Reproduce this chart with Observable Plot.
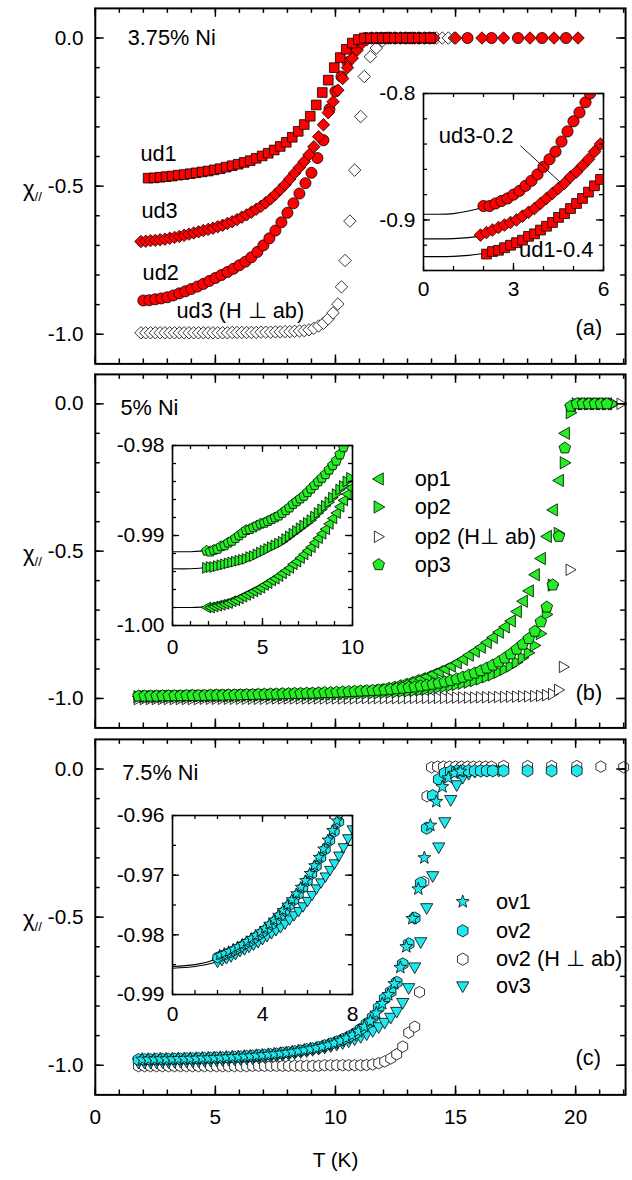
<!DOCTYPE html>
<html><head><meta charset="utf-8">
<script src="https://cdn.jsdelivr.net/npm/d3@7"></script>
<script src="https://cdn.jsdelivr.net/npm/@observablehq/plot@0.6"></script>
<style>
body{margin:0;background:#fff;}
#fig{position:relative;width:632px;height:1180px;overflow:hidden;background:#fff;font-family:"Liberation Sans",Arial,sans-serif;}
.ylab{position:absolute;font-size:22px;line-height:1;color:#000;}
.ylab sub{font-size:13px;vertical-align:-5px;}
</style></head><body><div id="fig"></div>
<script>
// ---------------- DATA ----------------
// Panel (a) 3.75% Ni : [T (K), chi]
const ud1 = [[2.2,-0.473],[2.45,-0.472],[2.7,-0.470],[2.95,-0.468],[3.2,-0.466],[3.45,-0.463],[3.7,-0.461],[3.95,-0.458],[4.2,-0.455],[4.45,-0.452],[4.7,-0.449],[4.95,-0.445],[5.2,-0.441],[5.45,-0.436],[5.7,-0.431],[5.95,-0.426],[6.2,-0.420],[6.45,-0.414],[6.7,-0.406],[6.95,-0.398],[7.2,-0.389],[7.45,-0.378],[7.7,-0.366],[7.95,-0.352],[8.2,-0.335],[8.45,-0.315],[8.7,-0.292],[8.95,-0.264],[9.2,-0.226],[9.45,-0.184],[9.7,-0.142],[9.95,-0.100],[10.2,-0.066],[10.45,-0.038],[10.7,-0.017],[10.95,-0.005],[11.2,0],[11.45,0],[11.7,0],[11.95,0],[12.2,0],[12.45,0],[12.7,0],[12.95,0],[13.2,0],[13.45,0],[13.7,0],[13.95,0]];
const ud2 = [[2.0,-0.886],[2.25,-0.885],[2.5,-0.882],[2.75,-0.879],[3.0,-0.875],[3.25,-0.869],[3.5,-0.862],[3.75,-0.855],[4.0,-0.847],[4.25,-0.839],[4.5,-0.830],[4.75,-0.820],[5.0,-0.810],[5.25,-0.800],[5.5,-0.790],[5.75,-0.779],[6.0,-0.767],[6.25,-0.755],[6.5,-0.740],[6.75,-0.722],[7.0,-0.700],[7.25,-0.676],[7.5,-0.650],[7.75,-0.622],[8.0,-0.590],[8.25,-0.558],[8.5,-0.525],[8.75,-0.490],[9.0,-0.455],[9.25,-0.405],[9.5,-0.345],[9.75,-0.240],[10.0,-0.180],[10.25,-0.130],[10.5,-0.082],[10.75,-0.040],[11.0,-0.014],[11.25,0],[11.5,0],[11.75,0],[12.0,0],[12.25,0],[12.5,0],[12.75,0],[13.0,0],[13.25,0],[13.5,0],[13.75,0],[14.0,0],[15.5,0],[16.5,0],[17.6,0],[18.6,0],[19.6,0]];
const ud3 = [[1.9,-0.687],[2.1,-0.686],[2.3,-0.684],[2.5,-0.683],[2.7,-0.681],[2.9,-0.679],[3.1,-0.676],[3.3,-0.673],[3.5,-0.670],[3.7,-0.666],[3.9,-0.662],[4.1,-0.658],[4.3,-0.654],[4.5,-0.650],[4.7,-0.646],[4.9,-0.642],[5.1,-0.637],[5.3,-0.632],[5.5,-0.626],[5.7,-0.620],[5.9,-0.613],[6.1,-0.605],[6.3,-0.597],[6.5,-0.588],[6.7,-0.578],[6.9,-0.568],[7.1,-0.556],[7.3,-0.543],[7.5,-0.528],[7.7,-0.512],[7.9,-0.495],[8.1,-0.476],[8.3,-0.456],[8.5,-0.437],[8.7,-0.417],[8.9,-0.394],[9.1,-0.367],[9.3,-0.333],[9.5,-0.293],[9.7,-0.252],[9.9,-0.215],[10.1,-0.176],[10.3,-0.137],[10.5,-0.100],[10.7,-0.068],[10.9,-0.041],[11.1,-0.018],[11.3,-0.006],[11.5,0],[11.7,0],[11.9,0],[12.1,0],[12.3,0],[12.5,0],[12.7,0],[12.9,0],[13.1,0],[13.3,0],[13.5,0],[13.7,0],[13.9,0],[14.1,0],[15.0,0],[16.1,0],[17.0,0],[18.1,0],[19.1,0],[20.1,0]];
const ud3perp = [[1.9,-0.995],[2.1,-0.995],[2.3,-0.995],[2.5,-0.995],[2.7,-0.995],[2.9,-0.995],[3.1,-0.995],[3.3,-0.995],[3.5,-0.995],[3.7,-0.995],[3.9,-0.995],[4.1,-0.995],[4.3,-0.995],[4.5,-0.995],[4.7,-0.995],[4.9,-0.995],[5.1,-0.995],[5.3,-0.995],[5.5,-0.995],[5.7,-0.994],[5.9,-0.994],[6.1,-0.994],[6.3,-0.994],[6.5,-0.994],[6.7,-0.994],[6.9,-0.993],[7.1,-0.993],[7.3,-0.993],[7.5,-0.992],[7.7,-0.992],[7.9,-0.991],[8.1,-0.991],[8.3,-0.990],[8.5,-0.989],[8.7,-0.988],[8.9,-0.985],[9.1,-0.980],[9.3,-0.972],[9.5,-0.963],[9.7,-0.948],[9.9,-0.928],[10.1,-0.898],[10.25,-0.840],[10.4,-0.751],[10.6,-0.618],[10.8,-0.446],[11.05,-0.265],[11.2,-0.130],[11.45,-0.063],[11.7,-0.034],[11.95,-0.010],[12.2,0],[12.45,0],[12.7,0],[12.95,0],[13.2,0],[13.45,0],[13.7,0],[13.95,0],[14.2,0],[14.45,0],[14.7,0],[14.95,0]];
// inset (a)
const ud2In = [[2.0,-0.889],[2.2,-0.889],[2.4,-0.887],[2.6,-0.885],[2.8,-0.883],[3.0,-0.880],[3.2,-0.877],[3.4,-0.873],[3.6,-0.869],[3.8,-0.864],[4.0,-0.858],[4.2,-0.852],[4.4,-0.846],[4.6,-0.838],[4.8,-0.830],[5.0,-0.822],[5.2,-0.815],[5.4,-0.807],[5.55,-0.800]];
const ud3In = [[1.9,-0.912],[2.1,-0.910],[2.3,-0.908],[2.5,-0.906],[2.7,-0.904],[2.9,-0.902],[3.1,-0.900],[3.3,-0.897],[3.5,-0.894],[3.7,-0.891],[3.9,-0.887],[4.1,-0.883],[4.3,-0.879],[4.5,-0.875],[4.7,-0.871],[4.9,-0.866],[5.1,-0.862],[5.3,-0.857],[5.5,-0.852],[5.7,-0.846],[5.9,-0.840]];
const ud1In = [[2.1,-0.927],[2.3,-0.925],[2.5,-0.924],[2.7,-0.922],[2.9,-0.920],[3.1,-0.918],[3.3,-0.916],[3.5,-0.913],[3.7,-0.911],[3.9,-0.908],[4.1,-0.905],[4.3,-0.902],[4.5,-0.898],[4.7,-0.895],[4.9,-0.891],[5.1,-0.887],[5.3,-0.883],[5.5,-0.878],[5.7,-0.873],[5.9,-0.868]];
const ud2Fit = [[0,-0.8955],[0.5,-0.8955],[1,-0.895],[1.5,-0.893],[2,-0.890],[2.5,-0.886],[3,-0.880],[3.5,-0.871],[4,-0.859],[4.5,-0.843],[5,-0.824],[5.5,-0.801],[6,-0.775]];
const ud3Fit = [[0,-0.915],[0.5,-0.915],[1,-0.9148],[1.5,-0.914],[2,-0.912],[2.5,-0.9075],[3,-0.901],[3.5,-0.894],[4,-0.885],[4.5,-0.875],[5,-0.864],[5.5,-0.852],[6,-0.837]];
const ud1Fit = [[0,-0.929],[0.5,-0.929],[1,-0.9288],[1.5,-0.928],[2,-0.9265],[2.5,-0.924],[3,-0.919],[3.5,-0.913],[4,-0.906],[4.5,-0.898],[5,-0.889],[5.5,-0.878],[6,-0.866]];

// Panel (b) 5% Ni
const op1 = [[1.80,-0.993],[2.05,-0.993],[2.30,-0.993],[2.55,-0.993],[2.80,-0.992],[3.05,-0.992],[3.30,-0.992],[3.55,-0.992],[3.80,-0.991],[4.05,-0.991],[4.30,-0.991],[4.55,-0.991],[4.80,-0.990],[5.05,-0.990],[5.30,-0.990],[5.55,-0.990],[5.80,-0.989],[6.05,-0.989],[6.30,-0.989],[6.55,-0.988],[6.80,-0.988],[7.05,-0.988],[7.30,-0.987],[7.55,-0.987],[7.80,-0.987],[8.05,-0.986],[8.30,-0.986],[8.55,-0.986],[8.80,-0.985],[9.05,-0.985],[9.30,-0.985],[9.55,-0.985],[9.80,-0.984],[10.05,-0.983],[10.30,-0.982],[10.55,-0.980],[10.80,-0.979],[11.05,-0.977],[11.30,-0.976],[11.55,-0.973],[11.80,-0.970],[12.05,-0.966],[12.30,-0.962],[12.55,-0.957],[12.80,-0.952],[13.05,-0.946],[13.30,-0.939],[13.55,-0.933],[13.80,-0.926],[14.05,-0.917],[14.30,-0.909],[14.55,-0.900],[14.80,-0.890],[15.05,-0.879],[15.30,-0.867],[15.55,-0.853],[15.80,-0.840],[16.05,-0.826],[16.30,-0.810],[16.55,-0.793],[16.80,-0.775],[17.05,-0.757],[17.30,-0.737],[17.55,-0.705],[17.80,-0.670],[18.05,-0.635],[18.30,-0.580],[18.55,-0.525],[18.80,-0.450],[19.05,-0.360],[19.30,-0.260],[19.55,-0.100],[19.80,-0.005],[20.05,0],[20.30,0],[20.55,0],[20.80,0],[21.05,0],[21.30,0]];
const op2 = [[1.80,-0.994],[2.05,-0.994],[2.30,-0.994],[2.55,-0.994],[2.80,-0.993],[3.05,-0.993],[3.30,-0.993],[3.55,-0.993],[3.80,-0.993],[4.05,-0.992],[4.30,-0.992],[4.55,-0.992],[4.80,-0.992],[5.05,-0.992],[5.30,-0.991],[5.55,-0.991],[5.80,-0.991],[6.05,-0.991],[6.30,-0.990],[6.55,-0.990],[6.80,-0.990],[7.05,-0.990],[7.30,-0.989],[7.55,-0.989],[7.80,-0.989],[8.05,-0.988],[8.30,-0.988],[8.55,-0.988],[8.80,-0.987],[9.05,-0.987],[9.30,-0.987],[9.55,-0.986],[9.80,-0.986],[10.05,-0.985],[10.30,-0.985],[10.55,-0.984],[10.80,-0.984],[11.05,-0.983],[11.30,-0.982],[11.55,-0.982],[11.80,-0.981],[12.05,-0.980],[12.30,-0.979],[12.55,-0.978],[12.80,-0.976],[13.05,-0.975],[13.30,-0.973],[13.55,-0.971],[13.80,-0.968],[14.05,-0.966],[14.30,-0.963],[14.55,-0.960],[14.80,-0.957],[15.05,-0.953],[15.30,-0.949],[15.55,-0.945],[15.80,-0.940],[16.05,-0.934],[16.30,-0.927],[16.55,-0.920],[16.80,-0.911],[17.05,-0.901],[17.30,-0.890],[17.55,-0.877],[17.80,-0.862],[18.05,-0.845],[18.30,-0.820],[18.55,-0.780],[18.80,-0.715],[19.05,-0.615],[19.30,-0.440],[19.55,-0.200],[19.80,-0.030],[20.05,0],[20.30,0],[20.55,0],[20.80,0],[21.05,0],[21.30,0],[21.55,0]];
const op2perp = [[1.80,-1.002],[2.05,-1.002],[2.30,-1.002],[2.55,-1.002],[2.80,-1.002],[3.05,-1.002],[3.30,-1.002],[3.55,-1.002],[3.80,-1.002],[4.05,-1.002],[4.30,-1.002],[4.55,-1.001],[4.80,-1.001],[5.05,-1.001],[5.30,-1.001],[5.55,-1.001],[5.80,-1.001],[6.05,-1.001],[6.30,-1.001],[6.55,-1.001],[6.80,-1.001],[7.05,-1.001],[7.30,-1.001],[7.55,-1.000],[7.80,-1.000],[8.05,-1.000],[8.30,-1.000],[8.55,-1.000],[8.80,-1.000],[9.05,-1.000],[9.30,-1.000],[9.55,-1.000],[9.80,-1.000],[10.05,-1.000],[10.30,-1.000],[10.55,-1.000],[10.80,-1.000],[11.05,-0.999],[11.30,-0.999],[11.55,-0.999],[11.80,-0.999],[12.05,-0.999],[12.30,-0.999],[12.55,-0.999],[12.80,-0.999],[13.05,-0.999],[13.30,-0.998],[13.55,-0.998],[13.80,-0.998],[14.05,-0.998],[14.30,-0.998],[14.55,-0.998],[14.80,-0.998],[15.05,-0.997],[15.30,-0.997],[15.55,-0.997],[15.80,-0.997],[16.05,-0.996],[16.30,-0.996],[16.55,-0.996],[16.80,-0.995],[17.05,-0.995],[17.30,-0.994],[17.55,-0.994],[17.80,-0.993],[18.05,-0.993],[18.30,-0.992],[18.55,-0.991],[18.80,-0.989],[19.05,-0.985],[19.30,-0.971],[19.50,-0.893],[19.78,-0.563],[20.30,0],[20.80,0],[21.30,0],[21.60,0],[21.90,0]];
const op3 = [[1.80,-0.992],[2.05,-0.992],[2.30,-0.992],[2.55,-0.992],[2.80,-0.991],[3.05,-0.991],[3.30,-0.991],[3.55,-0.991],[3.80,-0.990],[4.05,-0.990],[4.30,-0.990],[4.55,-0.990],[4.80,-0.989],[5.05,-0.989],[5.30,-0.989],[5.55,-0.988],[5.80,-0.988],[6.05,-0.988],[6.30,-0.987],[6.55,-0.987],[6.80,-0.986],[7.05,-0.986],[7.30,-0.985],[7.55,-0.985],[7.80,-0.984],[8.05,-0.984],[8.30,-0.983],[8.55,-0.983],[8.80,-0.982],[9.05,-0.982],[9.30,-0.981],[9.55,-0.980],[9.80,-0.980],[10.05,-0.979],[10.30,-0.978],[10.55,-0.977],[10.80,-0.976],[11.05,-0.975],[11.30,-0.974],[11.55,-0.973],[11.80,-0.972],[12.05,-0.971],[12.30,-0.969],[12.55,-0.967],[12.80,-0.965],[13.05,-0.963],[13.30,-0.961],[13.55,-0.958],[13.80,-0.955],[14.05,-0.952],[14.30,-0.948],[14.55,-0.944],[14.80,-0.939],[15.05,-0.934],[15.30,-0.928],[15.55,-0.921],[15.80,-0.914],[16.05,-0.906],[16.30,-0.897],[16.55,-0.887],[16.80,-0.876],[17.05,-0.863],[17.30,-0.849],[17.55,-0.833],[17.80,-0.816],[18.05,-0.797],[18.30,-0.772],[18.55,-0.740],[18.80,-0.690],[19.05,-0.615],[19.30,-0.450],[19.55,-0.150],[19.80,-0.008],[20.05,0],[20.30,0],[20.55,0],[20.80,0],[21.05,0],[21.30,0]];
// inset (b)
const op3In = [[1.9,-0.9917],[2.1,-0.9918],[2.3,-0.9916],[2.5,-0.9915],[2.7,-0.9912],[2.9,-0.9911],[3.1,-0.9908],[3.3,-0.9906],[3.5,-0.9903],[3.7,-0.9900],[3.9,-0.9897],[4.1,-0.9894],[4.3,-0.9893],[4.5,-0.9891],[4.7,-0.9889],[4.9,-0.9887],[5.1,-0.9886],[5.3,-0.9884],[5.5,-0.9882],[5.7,-0.9880],[5.9,-0.9878],[6.1,-0.9875],[6.3,-0.9872],[6.5,-0.9869],[6.7,-0.9865],[6.9,-0.9862],[7.1,-0.9859],[7.3,-0.9856],[7.5,-0.9852],[7.7,-0.9848],[7.9,-0.9844],[8.1,-0.9840],[8.3,-0.9836],[8.5,-0.9832],[8.7,-0.9827],[8.9,-0.9822],[9.1,-0.9817],[9.3,-0.9810],[9.5,-0.9802]];
const op2In = [[1.9,-0.9936],[2.1,-0.9935],[2.3,-0.9935],[2.5,-0.9934],[2.7,-0.9933],[2.9,-0.9932],[3.1,-0.9931],[3.3,-0.9930],[3.5,-0.9929],[3.7,-0.9928],[3.9,-0.9927],[4.1,-0.9926],[4.3,-0.9924],[4.5,-0.9923],[4.7,-0.9921],[4.9,-0.9919],[5.1,-0.9917],[5.3,-0.9915],[5.5,-0.9913],[5.7,-0.9911],[5.9,-0.9909],[6.1,-0.9907],[6.3,-0.9904],[6.5,-0.9901],[6.7,-0.9898],[6.9,-0.9895],[7.1,-0.9892],[7.3,-0.9889],[7.5,-0.9886],[7.7,-0.9883],[7.9,-0.9879],[8.1,-0.9875],[8.3,-0.9871],[8.5,-0.9867],[8.7,-0.9863],[8.9,-0.9858],[9.1,-0.9854],[9.3,-0.9849],[9.5,-0.9845],[9.7,-0.9840],[9.9,-0.9836]];
const op1In = [[1.9,-0.9980],[2.1,-0.9980],[2.3,-0.9979],[2.5,-0.9978],[2.7,-0.9977],[2.9,-0.9976],[3.1,-0.9975],[3.3,-0.9973],[3.5,-0.9972],[3.7,-0.9970],[3.9,-0.9968],[4.1,-0.9966],[4.3,-0.9964],[4.5,-0.9962],[4.7,-0.9960],[4.9,-0.9958],[5.1,-0.9955],[5.3,-0.9953],[5.5,-0.9950],[5.7,-0.9948],[5.9,-0.9945],[6.1,-0.9942],[6.3,-0.9939],[6.5,-0.9936],[6.7,-0.9932],[6.9,-0.9929],[7.1,-0.9925],[7.3,-0.9921],[7.5,-0.9917],[7.7,-0.9913],[7.9,-0.9908],[8.1,-0.9903],[8.3,-0.9898],[8.5,-0.9893],[8.7,-0.9887],[8.9,-0.9881],[9.1,-0.9875],[9.3,-0.9868],[9.5,-0.9861],[9.7,-0.9854],[9.9,-0.9847]];
const op3Fit = [[0,-0.9918],[1,-0.9918],[2,-0.9916],[3,-0.9910],[4,-0.9898],[5,-0.9885],[6,-0.9874],[7,-0.9860],[8,-0.9842],[9,-0.9820],[10,-0.9790]];
const op2Fit = [[0,-0.9937],[1,-0.9937],[2,-0.9935],[3,-0.9931],[4,-0.9926],[5,-0.9918],[6,-0.9908],[7,-0.9894],[8,-0.9877],[9,-0.9857],[10,-0.9834]];
const op1Fit = [[0,-0.9980],[1,-0.9980],[2,-0.9979],[3,-0.9975],[4,-0.9967],[5,-0.9957],[6,-0.9944],[7,-0.9927],[8,-0.9906],[9,-0.9880],[10,-0.9846]];

// Panel (c) 7.5% Ni
const ov1 = [[1.95,-0.980],[2.2,-0.980],[2.45,-0.980],[2.7,-0.979],[2.95,-0.979],[3.2,-0.979],[3.45,-0.978],[3.7,-0.978],[3.95,-0.977],[4.2,-0.977],[4.45,-0.976],[4.7,-0.976],[4.95,-0.975],[5.2,-0.974],[5.45,-0.973],[5.7,-0.972],[5.95,-0.971],[6.2,-0.970],[6.45,-0.969],[6.7,-0.967],[6.95,-0.966],[7.2,-0.964],[7.45,-0.962],[7.7,-0.960],[7.95,-0.958],[8.2,-0.955],[8.45,-0.952],[8.7,-0.949],[8.95,-0.945],[9.2,-0.942],[9.45,-0.937],[9.7,-0.932],[9.95,-0.926],[10.2,-0.918],[10.45,-0.909],[10.7,-0.899],[10.95,-0.886],[11.2,-0.870],[11.45,-0.851],[11.7,-0.824],[11.95,-0.792],[12.2,-0.762],[12.45,-0.725],[12.7,-0.670],[12.95,-0.600],[13.2,-0.505],[13.45,-0.405],[13.7,-0.300],[13.95,-0.190],[14.2,-0.110],[14.45,-0.060],[14.7,-0.030],[14.95,-0.015],[15.2,-0.008]];
const ov2 = [[1.80,-0.981],[2.05,-0.981],[2.30,-0.981],[2.55,-0.980],[2.80,-0.980],[3.05,-0.980],[3.30,-0.979],[3.55,-0.979],[3.80,-0.978],[4.05,-0.978],[4.30,-0.977],[4.55,-0.977],[4.80,-0.976],[5.05,-0.975],[5.30,-0.975],[5.55,-0.974],[5.80,-0.973],[6.05,-0.972],[6.30,-0.970],[6.55,-0.969],[6.80,-0.967],[7.05,-0.966],[7.30,-0.964],[7.55,-0.962],[7.80,-0.959],[8.05,-0.957],[8.30,-0.954],[8.55,-0.951],[8.80,-0.947],[9.05,-0.944],[9.30,-0.940],[9.55,-0.934],[9.80,-0.928],[10.05,-0.921],[10.30,-0.913],[10.55,-0.904],[10.80,-0.893],[11.05,-0.878],[11.30,-0.860],[11.55,-0.838],[11.80,-0.806],[12.05,-0.775],[12.30,-0.752],[12.55,-0.720],[12.80,-0.658],[13.05,-0.590],[13.30,-0.503],[13.55,-0.385],[13.80,-0.200],[14.05,-0.090],[14.30,-0.035],[14.55,-0.014],[14.80,-0.008],[15.05,-0.006],[15.30,-0.006],[15.55,-0.006],[15.80,-0.006],[16.05,-0.006],[16.30,-0.006],[16.55,-0.006],[17.0,-0.006],[18.0,-0.006],[19.0,-0.006],[20.05,-0.006]];
const ov2perp = [[1.80,-1.003],[2.05,-1.003],[2.30,-1.003],[2.55,-1.003],[2.80,-1.003],[3.05,-1.003],[3.30,-1.003],[3.55,-1.003],[3.80,-1.003],[4.05,-1.003],[4.30,-1.003],[4.55,-1.003],[4.80,-1.003],[5.05,-1.003],[5.30,-1.003],[5.55,-1.003],[5.80,-1.003],[6.05,-1.003],[6.30,-1.003],[6.55,-1.002],[6.80,-1.002],[7.05,-1.002],[7.30,-1.002],[7.55,-1.002],[7.80,-1.002],[8.05,-1.002],[8.30,-1.002],[8.55,-1.002],[8.80,-1.002],[9.05,-1.002],[9.30,-1.002],[9.55,-1.000],[9.80,-1.000],[10.05,-1.000],[10.30,-1.000],[10.55,-1.000],[10.80,-1.000],[11.05,-1.000],[11.30,-0.999],[11.55,-0.997],[11.80,-0.993],[12.05,-0.987],[12.30,-0.977],[12.55,-0.963],[12.80,-0.937],[13.05,-0.890],[13.30,-0.870],[13.50,-0.753],[13.68,-0.381],[13.81,-0.092],[14.00,0.006],[14.25,0.008],[14.50,0.008],[14.75,0.008],[15.00,0.008],[15.25,0.008],[15.50,0.008],[15.75,0.008],[16.00,0.008],[16.25,0.008],[16.50,0.008],[17.0,0.010],[18.0,0.010],[19.0,0.010],[20.05,0.010],[21.05,0.008],[22.0,0.006]];
const ov3 = [[1.80,-0.992],[2.05,-0.992],[2.30,-0.991],[2.55,-0.991],[2.80,-0.990],[3.05,-0.990],[3.30,-0.989],[3.55,-0.989],[3.80,-0.988],[4.05,-0.987],[4.30,-0.987],[4.55,-0.986],[4.80,-0.985],[5.05,-0.984],[5.30,-0.983],[5.55,-0.982],[5.80,-0.981],[6.05,-0.980],[6.30,-0.978],[6.55,-0.977],[6.80,-0.975],[7.05,-0.973],[7.30,-0.971],[7.55,-0.969],[7.80,-0.966],[8.05,-0.963],[8.30,-0.960],[8.55,-0.956],[8.80,-0.953],[9.05,-0.949],[9.30,-0.945],[9.55,-0.941],[9.80,-0.936],[10.05,-0.931],[10.30,-0.926],[10.55,-0.920],[10.80,-0.913],[11.05,-0.905],[11.30,-0.896],[11.55,-0.885],[11.80,-0.872],[12.05,-0.857],[12.30,-0.840],[12.55,-0.820],[12.80,-0.790],[13.05,-0.740],[13.30,-0.670],[13.55,-0.585],[13.80,-0.470],[14.05,-0.362],[14.30,-0.265],[14.55,-0.180],[14.80,-0.105],[15.05,-0.055],[15.30,-0.030],[15.55,-0.017],[15.80,-0.010],[16.05,-0.007],[16.30,-0.006],[16.55,-0.006],[16.80,-0.006]];
// inset (c)
const ov1In = [[2.1,-0.9834],[2.3,-0.9831],[2.5,-0.9828],[2.7,-0.9824],[2.9,-0.9820],[3.1,-0.9816],[3.3,-0.9811],[3.5,-0.9806],[3.7,-0.9801],[3.9,-0.9795],[4.1,-0.9789],[4.3,-0.9782],[4.5,-0.9775],[4.7,-0.9767],[4.9,-0.9759],[5.1,-0.9750],[5.3,-0.9741],[5.5,-0.9731],[5.7,-0.9720],[5.9,-0.9709],[6.1,-0.9697],[6.3,-0.9684],[6.5,-0.9670],[6.7,-0.9656],[6.9,-0.9641],[7.1,-0.9625],[7.3,-0.9609]];
const ov2In = [[2.0,-0.9838],[2.2,-0.9835],[2.4,-0.9832],[2.6,-0.9829],[2.8,-0.9825],[3.0,-0.9821],[3.2,-0.9816],[3.4,-0.9812],[3.6,-0.9807],[3.8,-0.9801],[4.0,-0.9796],[4.2,-0.9790],[4.4,-0.9783],[4.6,-0.9776],[4.8,-0.9768],[5.0,-0.9760],[5.2,-0.9751],[5.4,-0.9742],[5.6,-0.9732],[5.8,-0.9721],[6.0,-0.9710],[6.2,-0.9698],[6.4,-0.9685],[6.6,-0.9671],[6.8,-0.9657],[7.0,-0.9642],[7.2,-0.9627],[7.4,-0.9611]];
const ov3In = [[2.0,-0.9846],[2.2,-0.9843],[2.4,-0.9840],[2.6,-0.9837],[2.8,-0.9833],[3.0,-0.9828],[3.2,-0.9825],[3.4,-0.9821],[3.6,-0.9817],[3.8,-0.9813],[4.0,-0.9808],[4.2,-0.9803],[4.4,-0.9798],[4.6,-0.9793],[4.8,-0.9788],[5.0,-0.9782],[5.2,-0.9775],[5.4,-0.9768],[5.6,-0.9761],[5.8,-0.9753],[6.0,-0.9744],[6.2,-0.9734],[6.4,-0.9723],[6.6,-0.9713],[6.8,-0.9703],[7.0,-0.9692],[7.2,-0.9681],[7.4,-0.9668],[7.6,-0.9654],[7.8,-0.9639],[8.0,-0.9624]];
const ovFitUpper = [[0,-0.9853],[1,-0.9850],[2,-0.9840],[3,-0.9822],[4,-0.9797],[5,-0.9760],[6,-0.9709],[7,-0.9643],[7.5,-0.9605],[8,-0.9565]];
const ovFitLower = [[0,-0.9856],[1,-0.9853],[2,-0.9845],[3,-0.9830],[4,-0.9808],[5,-0.9780],[6,-0.9743],[7,-0.9693],[8,-0.9628]];

// ticks and labels
const xMinor = [0,1,2,3,4,5,6,7,8,9,10,11,12,13,14,15,16,17,18,19,20,21,22];
const xMajor = [0,5,10,15,20];
const yMinor = [-1.0,-0.9,-0.8,-0.7,-0.6,-0.5,-0.4,-0.3,-0.2,-0.1,0.0];
const yMajor = [-1.0,-0.5,0.0];
const legendB = [["op1","triL",-0.255],["op2","triR",-0.350],["op2 (H\u22a5 ab)","triRopen",-0.451],["op3","pent",-0.546]];
const legendC = [["ov1","star",-0.448],["ov2","hex",-0.546],["ov2 (H \u22a5 ab)","hexopen",-0.642],["ov3","triD",-0.734]];

// ---------------- SYMBOLS ----------------
const R = s => Math.sqrt(s / Math.PI);
function poly(c, pts){ c.moveTo(pts[0][0], pts[0][1]); for (let i=1;i<pts.length;i++) c.lineTo(pts[i][0], pts[i][1]); c.closePath(); }
const SYM = {
  square: {draw(c,s){const r=R(s); poly(c,[[-r,-r],[r,-r],[r,r],[-r,r]]);}},
  diamond:{draw(c,s){const r=R(s); poly(c,[[0,-r],[r,0],[0,r],[-r,0]]);}},
  circle: {draw(c,s){const r=R(s); c.moveTo(r,0); c.arc(0,0,r,0,2*Math.PI);}},
  triL:   {draw(c,s){const r=R(s); poly(c,[[-r,0],[r*0.75,-r],[r*0.75,r]]);}},
  triR:   {draw(c,s){const r=R(s); poly(c,[[r,0],[-r*0.75,-r],[-r*0.75,r]]);}},
  triD:   {draw(c,s){const r=R(s); poly(c,[[0,r],[r,-r*0.75],[-r,-r*0.75]]);}},
  pent:   {draw(c,s){const r=R(s); poly(c,d3.range(5).map(k=>{const a=-Math.PI/2+k*2*Math.PI/5; return [r*Math.cos(a), r*Math.sin(a)];}));}},
  hex:    {draw(c,s){const r=R(s); poly(c,d3.range(6).map(k=>{const a=-Math.PI/2+k*Math.PI/3; return [r*Math.cos(a), r*Math.sin(a)];}));}},
  star:   {draw(c,s){const r=R(s); poly(c,d3.range(10).map(k=>{const a=-Math.PI/2+k*Math.PI/5, q=k%2?r*0.42:r; return [q*Math.cos(a), q*Math.sin(a)];}));}}
};
const RED = "#ff0000", GREEN = "#22ee22", CYAN = "#1ee8ee";
const FONT = "Liberation Sans, Arial, sans-serif";
const FS_TICK = 21, FS_TXT = 22;

function dots(data, sym, r, fill, extra = {}) {
  return Plot.dot(data, {x: d => d[0], y: d => d[1], symbol: SYM[sym], r, fill, stroke: "black", strokeWidth: 0.8, ...extra});
}
function fit(data) { return Plot.line(data, {x: d => d[0], y: d => d[1], stroke: "black", strokeWidth: 1.1, curve: "natural", clip: true}); }
function txt(t, v, s, opts = {}) {
  return Plot.text([s], {x: () => t, y: () => v, text: d => d, fontFamily: FONT, fontSize: FS_TXT, fill: "black", textAnchor: "start", ...opts});
}
function frameTicks(pw, ph, xmin, xmaj, ymin, ymaj, lmin, lmaj, sw) {
  const o = {stroke: "black", strokeWidth: sw};
  return [
    Plot.tickX(xmin, {x: d => d, insetTop: ph - lmin, ...o}),
    Plot.tickX(xmin, {x: d => d, insetBottom: ph - lmin, ...o}),
    Plot.tickX(xmaj, {x: d => d, insetTop: ph - lmaj, ...o}),
    Plot.tickX(xmaj, {x: d => d, insetBottom: ph - lmaj, ...o}),
    Plot.tickY(ymin, {y: d => d, insetRight: pw - lmin, ...o}),
    Plot.tickY(ymin, {y: d => d, insetLeft: pw - lmin, ...o}),
    Plot.tickY(ymaj, {y: d => d, insetRight: pw - lmaj, ...o}),
    Plot.tickY(ymaj, {y: d => d, insetLeft: pw - lmaj, ...o})
  ];
}

const fig = document.getElementById("fig");
function place(svg, left, top) {
  svg.style.position = "absolute"; svg.style.left = left + "px"; svg.style.top = top + "px";
  svg.style.background = "transparent"; svg.style.overflow = "visible";
  fig.appendChild(svg);
}

// ---------------- MAIN PANELS ----------------
const W = 640, ML = 96, MR = 7, PW = W - ML - MR;
function mainPanel(top, ph, mb, marks, withXLabels) {
  const extra = [];
  if (withXLabels) {
    extra.push(Plot.text(xMajor, {x: d => d, frameAnchor: "bottom", lineAnchor: "middle", dy: 23, text: d => String(d), fontFamily: FONT, fontSize: FS_TICK, fill: "black"}));
    extra.push(Plot.text(["T (K)"], {x: () => 10, frameAnchor: "bottom", lineAnchor: "middle", dy: 66, text: d => d, fontFamily: FONT, fontSize: FS_TICK, fill: "black"}));
  }
  const svg = Plot.plot({
    width: W, height: 8 + ph + mb, marginLeft: ML, marginRight: MR, marginTop: 8, marginBottom: mb,
    x: {domain: [0, 22.08], axis: null}, y: {domain: [-1.1, 0.1], axis: null},
    marks: [
      ...marks,
      Plot.frame({stroke: "black", strokeWidth: 2}),
      ...frameTicks(PW, ph, xMinor, xMajor, yMinor, yMajor, 5, 9, 1.5),
      Plot.text(yMajor, {y: d => d, frameAnchor: "left", lineAnchor: "middle", dx: -12, textAnchor: "end", text: d => d.toFixed(1), fontFamily: FONT, fontSize: FS_TICK, fill: "black"}),
      ...extra
    ]
  });
  place(svg, 0, top - 8);
}

// Panel (a)
mainPanel(8, 360, 4, [
  dots(ud3perp, "diamond", 6.3, "white"),
  dots(ud2, "circle", 5.6, RED),
  dots(ud3, "diamond", 6.3, RED),
  dots(ud1, "square", 4.9, RED),
  txt(1.35, 0.0, "3.75% Ni"),
  txt(1.88, -0.392, "ud1"),
  txt(1.92, -0.585, "ud3"),
  txt(1.97, -0.793, "ud2"),
  txt(3.38, -0.923, "ud3 (H \u22a5 ab)"),
  txt(20.0, -0.98, "(a)")
], false);

// Panel (b)
mainPanel(374, 358, 4, [
  dots(op2perp, "triR", 5.8, "white"),
  dots(op1, "triL", 6.2, GREEN),
  dots(op2, "triR", 6.2, GREEN),
  dots(op3, "pent", 6.2, GREEN),
  txt(1.05, -0.014, "5% Ni"),
  txt(20.0, -0.98, "(b)"),
  ...legendB.map(([lab, sym, v]) => dots([[11.8, v]], sym === "triRopen" ? "triR" : sym, sym === "triRopen" ? 5.8 : 6.2, sym === "triRopen" ? "white" : GREEN)),
  ...legendB.map(([lab, sym, v]) => txt(13.3, v, lab))
], false);

// Panel (c)
mainPanel(739, 360, 81, [
  dots(ov2perp, "hex", 5.8, "white"),
  dots(ov3, "triD", 6.2, CYAN),
  dots(ov2, "hex", 6.2, CYAN),
  dots(ov1, "star", 6.8, CYAN),
  txt(1.12, -0.014, "7.5% Ni"),
  txt(20.0, -0.975, "(c)"),
  ...legendC.map(([lab, sym, v]) => dots([[15.3, v]], sym === "hexopen" ? "hex" : sym, sym === "star" ? 6.8 : 6.2, sym === "hexopen" ? "white" : CYAN)),
  ...legendC.map(([lab, sym, v]) => txt(16.68, v, lab))
], true);

// ---------------- INSETS ----------------
function inset(left, top, pw, ph, xd, yd, xmin, xmaj, ymin, ymaj, xlab, ylab, fmt, labDy, marks) {
  const iml = 75, imt = 10, imr = 10, imb = 40;
  const svg = Plot.plot({
    width: iml + pw + imr, height: imt + ph + imb, marginLeft: iml, marginTop: imt, marginRight: imr, marginBottom: imb,
    x: {domain: xd, axis: null}, y: {domain: yd, axis: null},
    marks: [
      ...marks,
      Plot.frame({stroke: "black", strokeWidth: 1.6}),
      ...frameTicks(pw, ph, xmin, xmaj, ymin, ymaj, 4, 7, 1.3),
      Plot.text(ylab, {y: d => d, frameAnchor: "left", lineAnchor: "middle", dx: -8, textAnchor: "end", text: fmt, fontFamily: FONT, fontSize: FS_TICK, fill: "black"}),
      Plot.text(xlab, {x: d => d, frameAnchor: "bottom", lineAnchor: "middle", dy: labDy, text: d => String(d), fontFamily: FONT, fontSize: FS_TICK, fill: "black"})
    ]
  });
  place(svg, left - iml, top - imt);
}

// inset (a)
inset(423, 93, 180, 177, [0, 6], [-0.94, -0.8],
  [0,1,2,3,4,5,6], [3], [-0.94,-0.92,-0.9,-0.88,-0.86,-0.84,-0.82,-0.8], [-0.9],
  [0,3,6], [-0.8,-0.9], d => d.toFixed(1), 19, [
  fit(ud2Fit), fit(ud3Fit), fit(ud1Fit),
  dots(ud2In, "circle", 5.6, RED, {clip: true}),
  dots(ud3In, "diamond", 6.3, RED, {clip: true}),
  dots(ud1In, "square", 4.9, RED, {clip: true}),
  Plot.link([[3.23, -0.8413, 4.57, -0.8704]], {x1: d => d[0], y1: d => d[1], x2: d => d[2], y2: d => d[3], stroke: "black", strokeWidth: 0.9}),
  txt(0.51, -0.8333, "ud3-0.2"),
  txt(3.18, -0.924, "ud1-0.4")
]);

// inset (b)
inset(172, 445, 180, 180, [0, 10], [-1.0, -0.98],
  [0,1,2,3,4,5,6,7,8,9,10], [5], [-1.0,-0.998,-0.996,-0.994,-0.992,-0.99,-0.988,-0.986,-0.984,-0.982,-0.98], [-0.99],
  [0,5,10], [-0.98,-0.99,-1.0], d => d.toFixed(2), 22, [
  fit(op3Fit), fit(op2Fit), fit(op1Fit),
  dots(op1In, "triL", 5.4, GREEN, {clip: true}),
  dots(op2In, "triR", 5.4, GREEN, {clip: true}),
  dots(op3In, "pent", 5.4, GREEN, {clip: true})
]);

// inset (c)
inset(172, 815, 180, 179, [0, 8], [-0.99, -0.96],
  [0,1,2,3,4,5,6,7,8], [4], [-0.99,-0.985,-0.98,-0.975,-0.97,-0.965,-0.96], [-0.98,-0.97],
  [0,4,8], [-0.96,-0.97,-0.98,-0.99], d => d.toFixed(2), 20, [
  fit(ovFitUpper), fit(ovFitLower),
  dots(ov3In, "triD", 5.4, CYAN, {clip: true}),
  dots(ov2In, "hex", 5.4, CYAN, {clip: true}),
  dots(ov1In, "star", 5.8, CYAN, {clip: true})
]);

// y-axis labels (chi with subscript //)
[190, 555, 920].forEach(cy => {
  const d = document.createElement("div");
  d.className = "ylab";
  d.innerHTML = "\u03c7<sub>//</sub>";
  d.style.left = "23px"; d.style.top = (cy - 12) + "px";
  fig.appendChild(d);
});
</script></body></html>
